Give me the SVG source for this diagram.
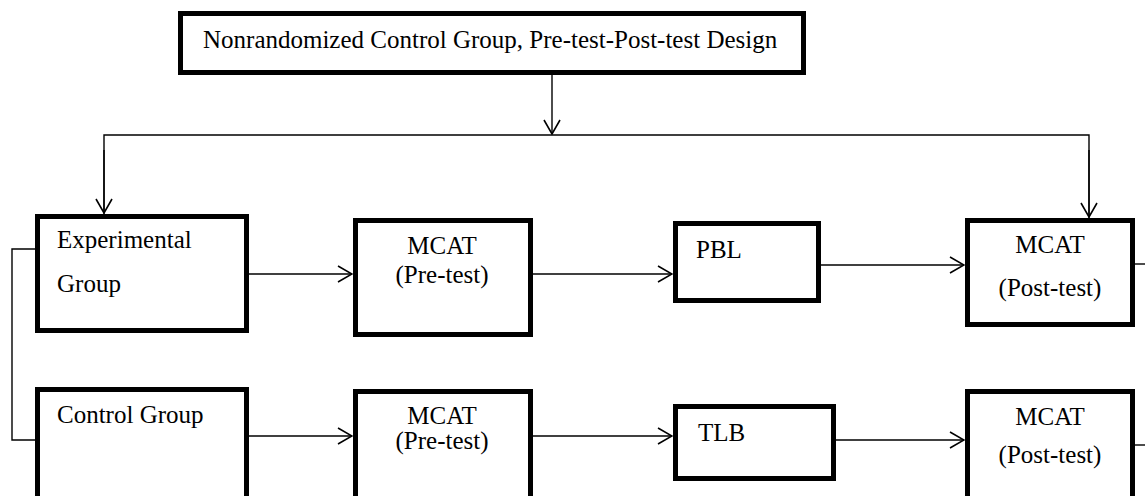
<svg xmlns="http://www.w3.org/2000/svg" width="1145" height="496" viewBox="0 0 1145 496">
<style>
.box{fill:#fff;stroke:#000;stroke-width:5}
.t{font-family:"Liberation Serif","Times New Roman",serif;font-size:25px;fill:#000}
.c{text-anchor:middle}
.ln{fill:none;stroke:#000;stroke-width:1.4}
</style>
<defs>
<marker id="ah" viewBox="0 0 16 18" refX="15" refY="9" markerWidth="16" markerHeight="18" markerUnits="userSpaceOnUse" orient="auto">
<path d="M1,1 L15,9 L1,17" fill="none" stroke="#000" stroke-width="1.6"/>
</marker>
</defs>
<rect width="1145" height="496" fill="#fff"/>
<g id="connectors">
<line class="ln" x1="552" y1="75" x2="552" y2="134" marker-end="url(#ah)"/>
<polyline class="ln" points="104,214 104,135 1089,135 1089,218"/>
<line class="ln" x1="104" y1="150" x2="104" y2="213" marker-end="url(#ah)"/>
<line class="ln" x1="1089" y1="150" x2="1089" y2="217" marker-end="url(#ah)"/>
<polyline class="ln" points="36,249 12,249 12,440 36,440"/>
<line class="ln" x1="249" y1="274" x2="352" y2="274" marker-end="url(#ah)"/>
<line class="ln" x1="533" y1="274" x2="672" y2="274" marker-end="url(#ah)"/>
<line class="ln" x1="821" y1="265" x2="964" y2="265" marker-end="url(#ah)"/>
<line class="ln" x1="1135" y1="264" x2="1145" y2="264"/>
<line class="ln" x1="249" y1="436" x2="352" y2="436" marker-end="url(#ah)"/>
<line class="ln" x1="533" y1="436" x2="672" y2="436" marker-end="url(#ah)"/>
<line class="ln" x1="836" y1="440" x2="964" y2="440" marker-end="url(#ah)"/>
<line class="ln" x1="1135" y1="445" x2="1145" y2="445"/>
</g>
<g id="title">
<rect class="box" x="180.5" y="13.5" width="623" height="59"/>
<text class="t" x="203" y="48">Nonrandomized Control Group, Pre-test-Post-test Design</text>
</g>
<g id="experimental">
<rect class="box" x="37.5" y="216.5" width="209" height="114"/>
<text class="t" x="57" y="248">Experimental</text>
<text class="t" x="57" y="292">Group</text>
</g>
<g id="mcat-pre-exp">
<rect class="box" x="355.5" y="220.5" width="175" height="114"/>
<text class="t c" x="442" y="254">MCAT</text>
<text class="t c" x="442" y="283">(Pre-test)</text>
</g>
<g id="pbl">
<rect class="box" x="675.5" y="223.5" width="143" height="77"/>
<text class="t" x="696" y="258">PBL</text>
</g>
<g id="mcat-post-exp">
<rect class="box" x="967.5" y="220.5" width="165" height="104"/>
<text class="t c" x="1050" y="253">MCAT</text>
<text class="t c" x="1050" y="296">(Post-test)</text>
</g>
<g id="control">
<rect class="box" x="37.5" y="389.5" width="209" height="120"/>
<text class="t" x="57" y="423">Control Group</text>
</g>
<g id="mcat-pre-ctrl">
<rect class="box" x="355.5" y="391.5" width="175" height="120"/>
<text class="t c" x="442" y="424">MCAT</text>
<text class="t c" x="442" y="449">(Pre-test)</text>
</g>
<g id="tlb">
<rect class="box" x="675.5" y="406.5" width="158" height="72"/>
<text class="t" x="698" y="441">TLB</text>
</g>
<g id="mcat-post-ctrl">
<rect class="box" x="967.5" y="391.5" width="165" height="120"/>
<text class="t c" x="1050" y="425">MCAT</text>
<text class="t c" x="1050" y="463">(Post-test)</text>
</g>
</svg>
